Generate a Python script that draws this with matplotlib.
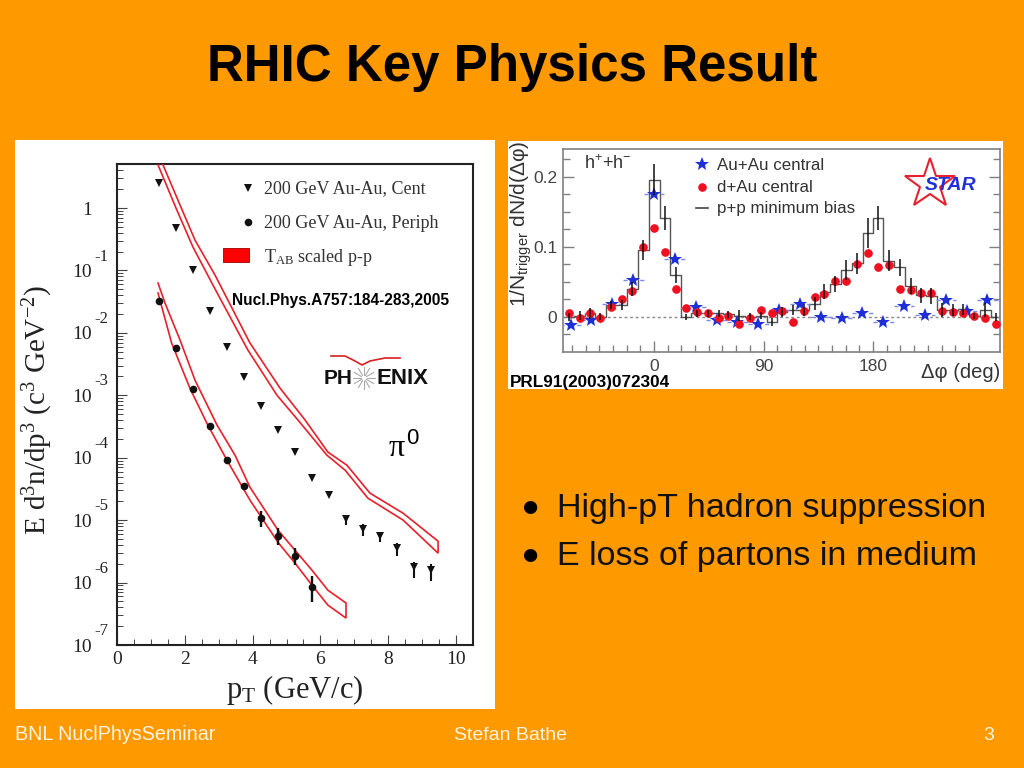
import numpy as np
import matplotlib
matplotlib.use("Agg")
import matplotlib.pyplot as plt
from matplotlib.patches import Rectangle

W, H = 1024, 768
ORANGE = "#FF9900"
SERIF = "Liberation Serif"
SANS = "Liberation Sans"
plt.rcParams["mathtext.default"] = "regular"
plt.rcParams["font.family"] = SANS

# ---------- left panel data ----------
pt_cent = [1.25, 1.75, 2.25, 2.75, 3.25, 3.75, 4.25, 4.75, 5.25, 5.75, 6.25, 6.75, 7.25, 7.75, 8.25, 8.75, 9.25]
yield_cent = [2.5, 0.48, 0.101, 0.0224, 5.9e-3, 1.96e-3, 6.7e-4, 2.77e-4, 1.23e-4, 4.7e-5, 2.5e-5,
              1.04e-5, 7.2e-6, 5.5e-6, 3.56e-6, 1.77e-6, 1.58e-6]
pt_cent_err = [6.75, 7.25, 7.75, 8.25, 8.75, 9.25]
cent_err_hi = [1.2e-5, 8.6e-6, 6.4e-6, 4.3e-6, 2.1e-6, 2.0e-6]
cent_err_lo = [8.3e-6, 5.5e-6, 4.4e-6, 2.65e-6, 1.18e-6, 1.05e-6]

pt_peri = [1.25, 1.75, 2.25, 2.75, 3.25, 3.75, 4.25, 4.75, 5.25, 5.75]
yield_peri = [0.032, 5.7e-3, 1.27e-3, 3.24e-4, 9.2e-5, 3.55e-5, 1.08e-5, 5.5e-6, 2.68e-6, 8.5e-7]
pt_peri_err = [4.25, 4.75, 5.25, 5.75]
peri_err_hi = [1.4e-5, 7.4e-6, 3.56e-6, 1.27e-6]
peri_err_lo = [7.9e-6, 4.0e-6, 1.9e-6, 4.85e-7]

band_cent_up_x = [1.357, 1.858, 2.30, 2.89, 3.92, 4.81, 5.55, 6.22, 6.78, 7.46, 8.44, 9.47]
band_cent_up_y = [4.9, 1.12, 0.307, 0.0844, 6.9e-3, 1.30e-3, 4.0e-4, 1.23e-4, 7.6e-5, 2.71e-5, 1.29e-5, 4.6e-6]
band_cent_lo_x = [1.21, 1.74, 2.24, 2.83, 3.86, 4.72, 5.34, 6.19, 6.73, 7.40, 8.44, 9.47]
band_cent_lo_y = [4.9, 1.0, 0.237, 0.0583, 5.3e-3, 1.0e-3, 4.0e-4, 1.1e-4, 6.3e-5, 2.25e-5, 1.0e-5, 2.96e-6]

band_peri_up_x = [1.21, 1.416, 1.858, 2.30, 2.95, 3.48, 3.92, 4.75, 5.25, 5.75, 6.22, 6.755]
band_peri_up_y = [0.0628, 0.030, 7.7e-3, 1.75e-3, 3.33e-4, 1.1e-4, 3.38e-5, 6.9e-6, 3.3e-6, 1.58e-6, 7.55e-7, 4.7e-7]
band_peri_lo_x = [1.21, 1.61, 2.15, 2.65, 3.24, 3.92, 4.75, 5.25, 5.75, 6.22, 6.755]
band_peri_lo_y = [0.0434, 6.9e-3, 1.3e-3, 3.58e-4, 9.2e-5, 2.1e-5, 4.4e-6, 2.05e-6, 9.1e-7, 4.35e-7, 2.7e-7]

decades = [0, -1, -2, -3, -4, -5, -6, -7]
x_ticks_left = [0, 2, 4, 6, 8, 10]

# ---------- right panel data ----------
dphi_bins = [-70, -61, -53, -44, -35, -26, -18, -9, 0, 9, 18, 26, 35, 44, 53, 61, 70, 79, 88, 97, 105,
             114, 123, 132, 140, 149, 158, 167, 176, 184, 193, 202, 211, 219, 228, 237, 246, 254, 263, 272, 281]
dau = [.005, -.002, .005, -.002, .014, .025, .037, .100, .127, .093, .040, .013, .007, .006, -.001, .002, -.010, -.001,
       .010, .006, .008, -.007, .008, .028, .033, .051, .051, .075, .092, .072, .074, .040, .038, .034, .034,
       .008, .007, .005, .001, -.001, -.010]
pp = [0, .002, .005, 0, .017, .017, .040, .096, .196, .141, .060, 0, .005, .005, .005, .004, .002, 0,
      .002, -.007, .007, .010, .010, .019, .036, .047, .067, .077, .120, .141, .080, .071, .044, .031, .030,
      .010, .010, .011, .001, .010, 0]
pp_err = [.006, .006, .008, .005, .006, .007, .010, .014, .022, .017, .012, .004, .005, .005, .005, .005, .008, .005,
          .005, .006, .007, .007, .009, .009, .011, .011, .014, .015, .022, .017, .015, .012, .011, .011, .011,
          .010, .008, .008, .004, .010, .006]
dphi_auau = [-68.5, -51.4, -34.2, -17.1, 0, 17.1, 34.2, 51.4, 68.5, 85.6, 102.7, 119.9, 137, 154.1, 171.3,
             188.4, 205.5, 222.7, 239.8, 256.9, 274]
auau = [-.011, -.004, .019, .053, .176, .083, .014, -.005, -.007, -.010, .010, .018, 0, -.002, .005,
        -.007, .016, .003, .024, .008, .024]
y_ticks_right = [0, 0.1, 0.2]
y_labels_right = ["0", "0.1", "0.2"]
x_ticks_right = [0, 90, 180]


def px_axes(l, t, r, b, **kw):
    return fig.add_axes([l / W, 1 - b / H, (r - l) / W, (b - t) / H], **kw)


fig = plt.figure(figsize=(W / 100, H / 100), dpi=100, facecolor=ORANGE)

# white panels
bg = px_axes(0, 0, W, H)
bg.set_xlim(0, W); bg.set_ylim(H, 0); bg.axis("off")
bg.add_patch(Rectangle((15, 140), 480, 569, fc="white", ec="none"))
bg.add_patch(Rectangle((508, 141), 495, 248, fc="white", ec="none"))

# ---------- left chart ----------
ax = px_axes(117, 164, 473, 645)
ax.set_facecolor("none")
ax.set_yscale("log")
ax.set_xlim(0, 10.5)
ax.set_ylim(1e-7, 5.07)
RED = "#E8202A"
for xs, ys in [(band_cent_up_x + band_cent_lo_x[::-1], band_cent_up_y + band_cent_lo_y[::-1]),
               (band_peri_up_x + band_peri_lo_x[::-1], band_peri_up_y + band_peri_lo_y[::-1])]:
    ax.plot(xs, ys, color=RED, lw=1.2, solid_joinstyle="miter", zorder=3)
ax.plot(pt_cent, yield_cent, ls="none", marker="v", ms=6, color="#111111", mew=0, zorder=4)
ax.plot(pt_peri, yield_peri, ls="none", marker="o", ms=5.5, color="#111111", mew=0, zorder=4)
ax.vlines(pt_cent_err, cent_err_lo, cent_err_hi, color="#111111", lw=1.5, zorder=4)
ax.vlines(pt_peri_err, peri_err_lo, peri_err_hi, color="#111111", lw=1.7, zorder=4)
for side in ["left", "bottom", "top", "right"]:
    ax.spines[side].set_linewidth(1.5)
    ax.spines[side].set_color("#222222")
ax.set_xticks(x_ticks_left)
ax.set_xticks(np.arange(0.5, 10.5, 0.5), minor=True)
ax.set_yticks([10.0 ** d for d in decades])
ax.set_yticks([m * 10.0 ** d for d in decades for m in range(2, 10) if m * 10.0 ** d < 5.07], minor=True)
ax.set_yticklabels(["1"] + ["10"] * 7)
ax.tick_params(which="major", direction="in", length=7, width=0.8, color="#444444", labelsize=14,
               labelcolor="#222222", pad=4.5)
ax.tick_params(which="minor", direction="in", length=4, width=0.7, color="#444444", labelleft=False,
               labelbottom=False)
ax.tick_params(axis="y", which="major", pad=18)
for lab in ax.get_xticklabels() + ax.get_yticklabels():
    lab.set_fontfamily(SERIF)
for d in decades[1:]:
    ax.annotate(str(d), xy=(0, 10.0 ** d), xycoords=("axes fraction", "data"), xytext=(-11, 10),
                textcoords="offset points", ha="center", va="center", fontsize=12, family=SERIF, color="#222222")

# ---------- right chart ----------
ar = px_axes(563, 149, 1000, 352)
ar.set_facecolor("none")
ar.set_xlim(-74.8, 284.3)
ar.set_ylim(-0.05, 0.24)
ar.axhline(0, color="#888888", ls=(0, (2, 2)), lw=1, zorder=1)
ar.step(dphi_bins, pp, where="mid", color="#555555", lw=1, zorder=2)
blue = ar.errorbar(dphi_auau, auau, xerr=8.5, ls="none", marker="*", ms=10.5, color="#1F2FD8", mew=0,
                   ecolor="#7F8AF0", elinewidth=1, capsize=0, zorder=3)
blue[2][0].set_linestyle((0, (3, 3)))
ar.errorbar(dphi_bins, dau, xerr=3.5, yerr=0.006, ls="none", marker="o", ms=6.2, color="#F01020", mew=0,
            ecolor="#F8A0A0", elinewidth=0.9, capsize=0, zorder=4)
ar.vlines(dphi_bins, np.array(pp) - np.array(pp_err), np.array(pp) + np.array(pp_err),
          color="#111111", lw=1.1, zorder=5)
for side in ar.spines.values():
    side.set_color("#808080")
    side.set_linewidth(1.2)
ar.set_xticks(x_ticks_right)
ar.set_xticks([k * 11.25 for k in range(-6, 25) if k % 8 != 0], minor=True)
ar.set_yticks(y_ticks_right)
ar.set_yticklabels(y_labels_right)
ar.set_yticks([k * 0.025 for k in range(-1, 10) if k % 4 != 0], minor=True)
ar.tick_params(which="major", direction="in", length=8, width=1, color="#808080", labelsize=12.5,
               labelcolor="#444444", right=True, pad=4)
ar.tick_params(which="minor", direction="in", length=5, width=1, color="#808080", right=True)
ar.tick_params(axis="x", which="major", pad=5)

# ---------- overlay in slide pixels ----------
ov = px_axes(0, 0, W, H)
ov.set_xlim(0, W); ov.set_ylim(H, 0); ov.axis("off"); ov.patch.set_alpha(0)

ov.text(512, 67, "RHIC Key Physics Result", fontsize=36.8, fontweight="bold", ha="center", va="center", color="black")
ov.text(530, 507, "●", fontsize=12.5, ha="center", va="center", color="black", family=["DejaVu Sans"])
ov.text(530, 555, "●", fontsize=12.5, ha="center", va="center", color="black", family=["DejaVu Sans"])
ov.text(557, 508, "High-pT hadron suppression", fontsize=24.6, va="center", color="#111111")
ov.text(557, 556, "E loss of partons in medium", fontsize=24.5, va="center", color="#111111")
ov.text(15, 734, "BNL NuclPhysSeminar", fontsize=14.2, va="center", color="#FFF4E0")
ov.text(510, 736, "Stefan Bathe", fontsize=14, va="center", ha="center", color="#FFF4E0")
ov.text(989, 735, "3", fontsize=14, va="center", ha="center", color="#FFF4E0")

# left chart labels and legend
ov.text(38, 410, "E d$^3$n/dp$^3$ (c$^3$ GeV$^{-2}$)", fontsize=21, family=SERIF, rotation=90,
        ha="center", va="center", color="#222222")
ov.text(295, 690, "p$_T$ (GeV/c)", fontsize=22, family=SERIF, ha="center", va="center", color="#222222")
ov.plot([248], [188], marker="v", ms=6, color="#111111", mew=0, ls="none")
ov.plot([248], [222], marker="o", ms=5.5, color="#111111", mew=0, ls="none")
ov.add_patch(Rectangle((223, 248), 26, 14, fc="#FF0000", ec="#B01010", lw=0.7))
ov.text(264, 189, "200 GeV Au-Au, Cent", fontsize=13, family=SERIF, va="center", color="#333333")
ov.text(264, 223, "200 GeV Au-Au, Periph", fontsize=13, family=SERIF, va="center", color="#333333")
ov.text(264, 258, "T$_{AB}$ scaled p-p", fontsize=13, family=SERIF, va="center", color="#333333")
ov.text(232, 301, "Nucl.Phys.A757:184-283,2005", fontsize=11.2, fontweight="bold", va="center", color="black")
ov.text(389, 449, "π", fontsize=23, family=SERIF, va="center", color="black")
ov.text(406, 439, "0", fontsize=16, va="center", color="black")

# PHENIX logo
ov.plot([331, 345, 355, 362, 370, 385, 400], [356, 356, 361, 365, 361, 358, 358], color="#D82020", lw=1.2)
ov.text(324, 379, "PH", fontsize=15, fontweight="bold", va="center", color="#111111")
ov.text(376, 379, "ENIX", fontsize=16, fontweight="bold", va="center", color="#111111")
for ang in np.arange(0, 360, 30):
    a = np.deg2rad(ang)
    ov.plot([364 + 3 * np.cos(a), 364 + 11 * np.cos(a)], [378 + 3 * np.sin(a), 378 + 11 * np.sin(a)],
            color="#AAAAAA", lw=0.8)

# right chart labels, legend, logo
ov.text(521, 224, "1/N$_{trigger}$ dN/d(Δφ)", fontsize=15, rotation=90, ha="center", va="center", color="#333333")
ov.text(584, 164, "h$^{+}$+h$^{-}$", fontsize=13, va="center", color="#333333")
ov.plot([702], [164], marker="*", ms=10.5, color="#1F2FD8", mew=0, ls="none")
ov.plot([702], [187], marker="o", ms=6.2, color="#F01020", mew=0, ls="none")
ov.plot([696, 708], [208, 208], color="#444444", lw=1.2)
ov.text(717, 165, "Au+Au central", fontsize=12.2, va="center", color="#333333")
ov.text(717, 188, "d+Au central", fontsize=12.2, va="center", color="#333333")
ov.text(717, 209, "p+p minimum bias", fontsize=12.2, va="center", color="#333333")
ov.text(1000, 373, "Δφ (deg)", fontsize=14.5, ha="right", va="center", color="#333333")
ov.plot([930], [184], marker="*", ms=38, mfc="none", mec="#E82030", mew=1.5, ls="none")
ov.text(951, 186, "STAR", fontsize=14, fontweight="bold", style="italic", ha="center", va="center", color="#2030D8")
ov.text(510, 382, "PRL91(2003)072304", fontsize=12.35, fontweight="bold", va="center", color="black")

fig.savefig("out.png", dpi=100, facecolor=ORANGE)
